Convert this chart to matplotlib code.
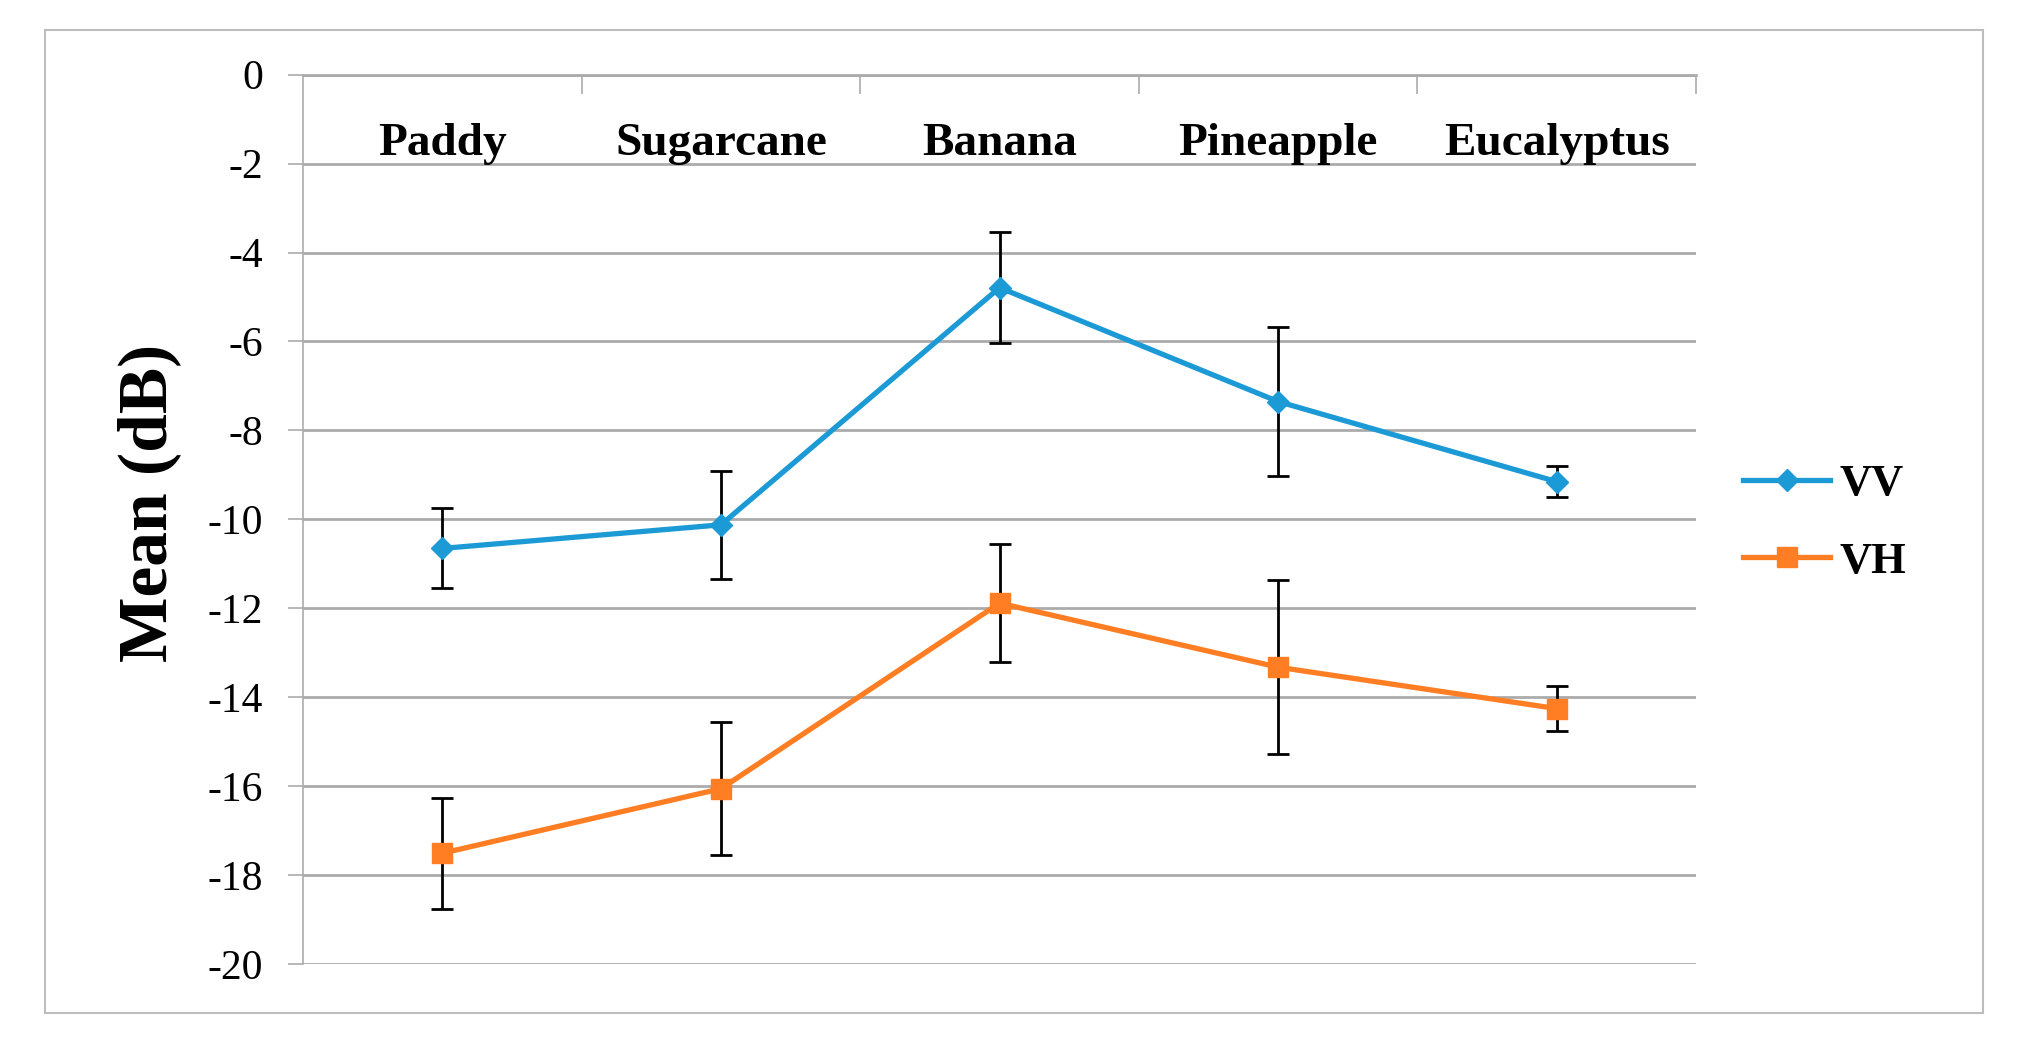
import matplotlib.pyplot as plt
from matplotlib.patches import Rectangle

# Mean backscatter (dB) per crop type, with error bar half-widths
categories = ['Paddy', 'Sugarcane', 'Banana', 'Pineapple', 'Eucalyptus']
vv_mean = [-10.65, -10.12, -4.79, -7.35, -9.15]
vv_err = [0.90, 1.22, 1.25, 1.67, 0.35]
vh_mean = [-17.50, -16.05, -11.88, -13.32, -14.25]
vh_err = [1.25, 1.50, 1.32, 1.95, 0.51]
y_ticks = [0, -2, -4, -6, -8, -10, -12, -14, -16, -18, -20]

serif = 'Liberation Serif'
blue = '#1C9AD6'
orange = '#FF7D23'
grid_gray = '#ababab'

fig = plt.figure(figsize=(20.23, 10.63), dpi=100)
ax = fig.add_axes([0.1498, 0.0927, 0.6886, 0.8372])

# outer chart frame
fig.patches.append(Rectangle((0.0222, 0.047), 0.958, 0.9248, transform=fig.transFigure,
                             fill=False, edgecolor='#bdbdbd', linewidth=1.5))

x = [i + 0.5 for i in range(len(categories))]

# error bars first, lines + markers on top
ax.errorbar(x, vv_mean, yerr=vv_err, fmt='none', ecolor='black', elinewidth=2,
            capsize=8, capthick=2, zorder=3)
ax.errorbar(x, vh_mean, yerr=vh_err, fmt='none', ecolor='black', elinewidth=2,
            capsize=8, capthick=2, zorder=3)
ax.plot(x, vv_mean, color=blue, linewidth=3.8, marker='D', markersize=11,
        label='VV', zorder=4)
ax.plot(x, vh_mean, color=orange, linewidth=3.8, marker='s', markersize=14,
        label='VH', zorder=4)

ax.set_xlim(0, len(categories))
ax.set_ylim(-20, 0)

# y axis: gray ticks pointing out, gridlines at every 2 dB
ax.set_yticks(y_ticks)
ax.set_yticklabels([str(t) for t in y_ticks], fontsize=30, fontfamily=serif)
ax.tick_params(axis='y', direction='out', length=10.8, width=1.2, color=grid_gray, pad=18)
ax.yaxis.grid(True, color=grid_gray, linewidth=2)
ax.set_axisbelow(True)

# category axis sits on the 0 line at the top
ax.xaxis.set_ticks_position('top')
ax.set_xticks(range(1, len(categories) + 1))
ax.set_xticklabels([])
ax.tick_params(axis='x', direction='in', length=13.7, width=1.2, color=grid_gray)

for s in ['right', 'bottom']:
    ax.spines[s].set_visible(False)
ax.spines['left'].set_color(grid_gray)
ax.spines['left'].set_linewidth(1.2)
ax.spines['top'].set_color(grid_gray)
ax.spines['top'].set_linewidth(2)

for xi, name in zip(x, categories):
    ax.text(xi, -1.8, name, ha='center', va='baseline', fontsize=34,
            fontweight='bold', fontfamily=serif)

fig.text(149 / 2023, 1 - 503 / 1063, 'Mean (dB)', rotation=90, ha='center', va='center',
         fontsize=50, fontweight='bold', fontfamily=serif)

fig.legend(loc='center left', bbox_to_anchor=(0.8616, 0.508), frameon=False,
           prop={'family': serif, 'weight': 'bold', 'size': 32},
           handlelength=1.96, handletextpad=0.22, labelspacing=0.85,
           borderpad=0, borderaxespad=0)

plt.savefig('out.png', dpi=100)
